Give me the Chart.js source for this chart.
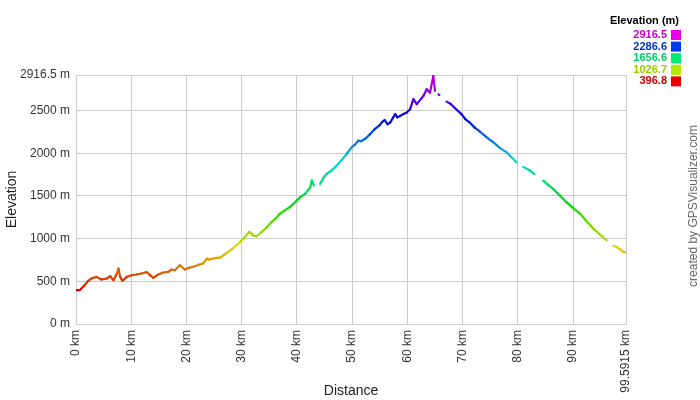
<!DOCTYPE html>
<html>
<head>
<meta charset="utf-8">
<script src="https://cdn.jsdelivr.net/npm/chart.js@4"></script>
<style>
  body { margin: 0; background: #fff; }
  #wrap { width: 700px; height: 400px; }
</style>
</head>
<body>
<div id="wrap"><canvas id="myChart" width="700" height="400"></canvas></div>
<script>

// distance along the track (km) and elevation (m), null = gap in the track
var distKm = [0, 0.7, 1.5, 2.2, 2.8, 3.7, 4.6, 5.6, 6.2, 6.8, 7.4, 7.7, 8.0, 8.4, 9.2,
  10.1, 11.0, 11.9, 12.8, 13.4, 14.0, 14.9, 15.8, 16.7, 17.3, 17.9, 18.8, 19.7,
  20.6, 21.5, 22.1, 23.0, 23.7, 24.0, 25.5, 26.1, 27.3, 28.5, 29.7,
  30.3, 31.4, 32.1, 32.7, 33.6, 34.5, 35.4, 36.2, 36.9, 37.8, 38.7,
  40.0, 40.6, 41.5, 42.4, 42.7, 43.1, 43.5, 44.2, 45.0, 45.4, 46.3, 47.2, 48.1, 49.0, 49.9,
  50.5, 51.1, 51.6, 52.3, 53.2, 54.1, 55.0, 55.5, 55.9, 56.4, 56.9, 57.8, 58.2, 58.7, 59.3, 59.9,
  60.5, 61.1, 61.7, 62.9, 63.5, 64.1, 64.7, 65.0, 65.3, 65.6, 65.8, 66.5,
  67.1, 67.8, 68.6, 69.8, 70.5, 71.3, 72.2, 73.1, 74.3, 75.6, 76.8, 78.0, 78.9, 79.8,
  80.3, 81.0, 82.2, 83.0, 83.6, 84.6, 85.5, 86.4, 87.6, 88.8,
  90.0, 91.3, 92.5, 93.7, 95.0, 96.1, 96.6, 97.3, 97.9, 98.6, 99.1, 99.5915];

var elevM = [397, 397, 450, 505, 533, 552, 521, 533, 560, 513, 591, 650, 552, 505, 552,
  572, 580, 591, 607, 572, 540, 580, 603, 610, 638, 630, 688, 638,
  661, 677, 692, 708, 766, 755, 774, 778, 832, 890, 960,
  1000, 1080, 1038, 1025, 1077, 1130, 1194, 1240, 1291, 1330, 1369,
  1447, 1486, 1525, 1600, 1680, 1625, null, 1641, 1730, 1758, 1800, 1855, 1920, 1991, 2068,
  2100, 2147, 2140, 2166, 2220, 2283, 2330, 2370, 2388, 2340, 2360, 2458, 2420, 2438, 2460, 2477,
  2516, 2633, 2575, 2671, 2750, 2710, 2905, 2730, null, 2690, 2680, null,
  2605, 2580, 2530, 2458, 2400, 2360, 2300, 2255, 2190, 2127, 2060, 2010, 1950, 1893,
  null, 1840, 1797, 1755, null, 1680, 1630, 1583, 1505, 1427,
  1360, 1291, 1200, 1116, 1040, 980, null, 915, 902, 870, 843, 840];

var xTickValues = [0, 10, 20, 30, 40, 50, 60, 70, 80, 90, 99.5915];
var yTickValues = [0, 500, 1000, 1500, 2000, 2500, 2916.5];
var legendValues = [2916.5, 2286.6, 1656.6, 1026.7, 396.8];

var elevMin = 396.8;
var elevMax = 2916.5;

function elevColor(e, light) {
  var f = (e - elevMin) / (elevMax - elevMin);
  if (f < 0) f = 0;
  if (f > 1) f = 1;
  var hue = f * 300;
  return 'hsl(' + hue + ',100%,' + (light || 43) + '%)';
}

function return_data() {
  var pts = [];
  for (var i = 0; i < distKm.length; i++) {
    pts.push({x: distKm[i], y: elevM[i]});
  }
  return {
    datasets: [{
      label: 'Elevation',
      data: pts,
      showLine: true,
      spanGaps: false,
      borderWidth: 2.2,
      borderJoinStyle: 'round',
      borderCapStyle: 'round',
      pointRadius: 0,
      borderColor: '#c00',
      segment: {
        borderColor: function(ctx) {
          return elevColor((ctx.p0.parsed.y + ctx.p1.parsed.y) / 2);
        }
      }
    }]
  };
}

// legend box in the top right corner + credit text
var extras = {
  id: 'extras',
  afterDraw: function(chart) {
    var c = chart.ctx;
    c.save();
    c.font = 'bold 11px "Liberation Sans", Arial, sans-serif';
    c.fillStyle = '#000';
    c.textAlign = 'right';
    c.textBaseline = 'middle';
    c.fillText('Elevation (m)', 679, 21);
    for (var i = 0; i < legendValues.length; i++) {
      var y = 35 + i * 11.6;
      c.fillStyle = elevColor(legendValues[i], 40);
      c.fillText(legendValues[i].toFixed(1), 667, y);
      c.fillStyle = elevColor(legendValues[i], 46);
      c.fillRect(671, y - 5, 10, 10);
    }
    c.translate(694, 206);
    c.rotate(-Math.PI / 2);
    c.textAlign = 'center';
    c.font = '12px "Liberation Sans", Arial, sans-serif';
    c.fillStyle = '#666';
    c.fillText('created by GPSVisualizer.com', 0, 0);
    c.restore();
  }
};

Chart.defaults.font.family = '"Liberation Sans", Arial, sans-serif';
Chart.defaults.color = '#333';

var ctx = document.getElementById('myChart').getContext('2d');

var chart = new Chart(ctx, {
  type: 'scatter',
  data: return_data(),
  plugins: [extras],
  options: {
    responsive: false,
    animation: false,
    layout: {padding: {top: 75, right: 74, left: 0, bottom: 0}},
    plugins: {legend: {display: false}, tooltip: {enabled: false}},
    scales: {
      x: {
        type: 'linear',
        min: 0,
        max: 99.5915,
        afterBuildTicks: function(scale) {
          scale.ticks = xTickValues.map(function(v) { return {value: v}; });
        },
        afterFit: function(scale) { scale.height = 76; },
        ticks: {
          autoSkip: false,
          minRotation: 90,
          maxRotation: 90,
          padding: 6,
          font: {size: 12},
          color: '#333',
          callback: function(v) { return v + ' km'; }
        },
        grid: {color: '#ccc', drawTicks: false},
        border: {color: '#ccc'},
        title: {display: true, text: 'Distance', font: {size: 14}, color: '#222', padding: {top: 0, bottom: 0}}
      },
      y: {
        min: 0,
        max: 2916.5,
        afterBuildTicks: function(scale) {
          scale.ticks = yTickValues.map(function(v) { return {value: v}; });
        },
        afterFit: function(scale) { scale.width = 76; },
        ticks: {
          padding: 6,
          font: {size: 12},
          color: '#333',
          callback: function(v) { return v + ' m'; }
        },
        grid: {color: '#ccc', drawTicks: false},
        border: {color: '#ccc'},
        title: {display: true, text: 'Elevation', font: {size: 14}, color: '#222', padding: {top: 4, bottom: 0}}
      }
    }
  }
});

</script>
</body>
</html>
